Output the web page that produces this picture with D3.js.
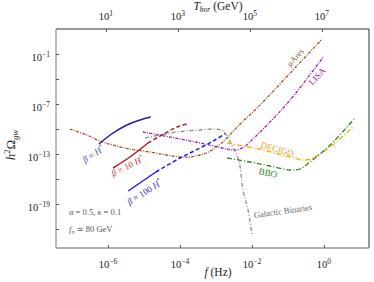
<!DOCTYPE html>
<html>
<head>
<meta charset="utf-8">
<script src="https://cdn.jsdelivr.net/npm/d3@7"></script>
<style>
  body { margin: 0; background: #fff; }
  svg { font-family: "Liberation Serif", "DejaVu Serif", serif; }
</style>
</head>
<body>
<svg id="chart" width="374" height="282"></svg>
<script>
// curves as [log10 f (Hz), log10 h^2 Omega]
var muAres = [[-7.06,-10.0],[-6.6,-10.7],[-6.22,-11.44],[-5.8,-12.0],[-5.39,-12.4],[-4.83,-12.76],
  [-4.4,-13.1],[-4.0,-13.36],[-3.7,-13.35],[-3.44,-13.12],[-3.2,-12.75],[-3.03,-12.28],[-2.85,-11.7],
  [-2.67,-10.96],[-2.33,-9.4],[-1.83,-7.36],[-0.94,-3.28],[-0.08,0.68]];
var lisa = [[-5.03,-10.36],[-4.14,-11.08],[-3.44,-11.68],[-2.83,-12.28],[-2.6,-12.5],[-2.4,-12.48],
  [-2.2,-12.1],[-2.06,-11.56],[-1.58,-9.52],[-0.94,-6.52],[0.0,-1.24]];
var galactic = [[-4.97,-11.08],[-4.08,-10.36],[-3.44,-10.12],[-3.03,-10.0],[-2.85,-10.15],[-2.75,-10.48],
  [-2.56,-11.92],[-2.45,-12.9],[-2.36,-13.84],[-2.25,-17.32],[-2.11,-19.72],[-2.0,-22.72]];
var decigo = [[-2.69,-11.68],[-1.69,-12.52],[-0.94,-13.36],[-0.53,-13.72],[-0.31,-13.48],[0.17,-12.16],[0.81,-9.76]];
var bbo = [[-2.69,-13.48],[-2.06,-13.96],[-1.5,-14.44],[-0.94,-14.92],[-0.67,-14.8],[-0.39,-13.96],[0.17,-11.92],[0.86,-8.68]];
var betaH = [[-6.25,-11.8],[-5.94,-10.72],[-5.53,-9.64],[-5.11,-8.92],[-4.81,-8.56]];
var beta10Solid = [[-5.86,-14.68],[-5.39,-13.36],[-4.89,-11.68]];
var beta10Dash = [[-4.89,-11.68],[-4.42,-10.52],[-4.08,-9.76],[-3.81,-9.4]];
var beta100Solid = [[-5.44,-17.44],[-4.67,-15.16]];
var beta100Dash = [[-4.67,-15.16],[-4.0,-13.48],[-3.44,-12.28],[-3.03,-11.32],[-2.75,-10.6]];

var xTicks = [1e-6, 1e-4, 1e-2, 1];
var xTickExp = ["\u22126", "\u22124", "\u22122", "0"];
var yTicks = [1e-1, 1e-7, 1e-13, 1e-19];
var yTickExp = ["\u22121", "\u22127", "\u221213", "\u221219"];
var yMinor = [1e-4, 1e-10, 1e-16, 1e-22];
var tTicks = [1e1, 1e3, 1e5, 1e7];
var tTickExp = ["1", "3", "5", "7"];
var tShift = 7.056; // log10 T_hor - log10 f

var svg = d3.select("#chart");
var L = 56, R = 369, T = 29, B = 248;

var x = d3.scaleLog().domain([Math.pow(10, -7.444), Math.pow(10, 1.25)]).range([L, R]);
var y = d3.scaleLog().domain([Math.pow(10, -24.28), Math.pow(10, 2.0)]).range([B, T]);
var xt = d3.scaleLog().domain([Math.pow(10, -7.444 + tShift), Math.pow(10, 1.25 + tShift)]).range([L, R]);

function toVal(pts){ return pts.map(function(p){ return [Math.pow(10, p[0]), Math.pow(10, p[1])]; }); }
var line = d3.line().x(function(d){ return x(d[0]); }).y(function(d){ return y(d[1]); })
  .curve(d3.curveCatmullRom.alpha(0.5));

function drawCurve(pts, color, dash, w){
  svg.append("path").datum(toVal(pts))
    .attr("d", line).attr("fill", "none")
    .attr("stroke", color).attr("stroke-width", w || 1.3)
    .attr("stroke-dasharray", dash || null);
}

drawCurve(muAres, "#a0522d", "3,1.3,1,1.3");
drawCurve(lisa, "#a21caf", "3,1.3,1,1.3");
drawCurve(galactic, "#8c8c8c", "4,2,1,2");
drawCurve(decigo, "#ffa500", "5,2,1,2");
drawCurve(bbo, "#1e8c1e", "5,2,1,2");
drawCurve(betaH, "#2222a8", null, 1.5);
drawCurve(beta10Solid, "#b01e1e", null, 1.5);
drawCurve(beta10Dash, "#b01e1e", "4,2.5", 1.5);
drawCurve(beta100Solid, "#1a1aff", null, 1.5);
drawCurve(beta100Dash, "#1a1aff", "4,2.5", 1.5);

// frame
svg.append("line").attr("x1", L).attr("x2", R).attr("y1", T).attr("y2", T).attr("stroke", "#333").attr("stroke-width", 1);
svg.append("line").attr("x1", R).attr("x2", R).attr("y1", T).attr("y2", B).attr("stroke", "#333").attr("stroke-width", 1);
svg.append("line").attr("x1", L).attr("x2", R).attr("y1", B).attr("y2", B).attr("stroke", "#999").attr("stroke-width", 1.3);
svg.append("line").attr("x1", L).attr("x2", L).attr("y1", T).attr("y2", B).attr("stroke", "#999").attr("stroke-width", 1.3);

// axes ticks (inward)
var ax = svg.append("g").attr("transform", "translate(0," + B + ")")
  .call(d3.axisBottom(x).tickValues(xTicks).tickSize(-3).tickFormat(""));
var ay = svg.append("g").attr("transform", "translate(" + L + ",0)")
  .call(d3.axisLeft(y).tickValues(yTicks.concat(yMinor)).tickSize(-3).tickFormat(""));
var at = svg.append("g").attr("transform", "translate(0," + T + ")")
  .call(d3.axisTop(xt).tickValues(tTicks).tickSize(-3).tickFormat(""));
[ax, ay, at].forEach(function(g){
  g.select(".domain").remove();
  g.selectAll(".tick line").attr("stroke", "#555");
});

function powLabel(px, py, exp, anchor){
  var t = svg.append("text").attr("x", px).attr("y", py)
    .attr("text-anchor", anchor).attr("font-size", 10.5).attr("fill", "#222");
  t.append("tspan").text("10");
  t.append("tspan").attr("dy", -4.5).attr("font-size", 7.5).text(exp);
}
xTicks.forEach(function(v, i){ powLabel(x(v), 268, xTickExp[i], "middle"); });
yTicks.forEach(function(v, i){ powLabel(50, y(v) + 7, yTickExp[i], "end"); });
tTicks.forEach(function(v, i){ powLabel(xt(v), 20, tTickExp[i], "middle"); });

// axis titles
var xl = svg.append("text").attr("x", 218).attr("y", 276).attr("text-anchor", "middle")
  .attr("font-size", 11.5).attr("fill", "#222");
xl.append("tspan").attr("font-style", "italic").text("f");
xl.append("tspan").text(" (Hz)");

var tl = svg.append("text").attr("x", 218).attr("y", 10).attr("text-anchor", "middle")
  .attr("font-size", 11.5).attr("fill", "#222");
tl.append("tspan").attr("font-style", "italic").text("T");
tl.append("tspan").attr("font-style", "italic").attr("font-size", 7.5).attr("dy", 2).text("hor");
tl.append("tspan").attr("dy", -2).text(" (GeV)");

var yl = svg.append("text").attr("transform", "translate(15,145) rotate(-90)")
  .attr("text-anchor", "middle").attr("font-size", 13).attr("fill", "#222");
yl.append("tspan").attr("font-style", "italic").text("h");
yl.append("tspan").attr("font-size", 8.5).attr("dy", -5).text("2");
yl.append("tspan").attr("dy", 5).text("\u03a9");
yl.append("tspan").attr("font-size", 8.5).attr("dy", 2.5).attr("font-style", "italic").text("gw");

// curve labels
function note(lf, lo, angle, size, color, parts){
  var px = x(Math.pow(10, lf)), py = y(Math.pow(10, lo));
  var t = svg.append("text").attr("transform", "translate(" + px + "," + py + ") rotate(" + angle + ")")
    .attr("text-anchor", "middle").attr("dominant-baseline", "middle")
    .attr("font-size", size).attr("fill", color);
  parts.forEach(function(p){
    var s = t.append("tspan").text(p[0]);
    if (p[1]) s.attr("font-style", "italic");
    if (p[2]) s.attr("font-size", size * 0.7).attr("dy", p[2]);
  });
}
note(-6.39, -13.12, -32, 9, "#4848a8", [["\u03b2", 1], [" = "], ["H", 1], ["*", 0, -3]]);
note(-5.44, -14.56, -26, 9, "#cc4040", [["\u03b2", 1], [" = 10 "], ["H", 1], ["*", 0, -3]]);
note(-4.97, -17.68, -32, 9, "#3030d8", [["\u03b2", 1], [" = 100 "], ["H", 1], ["*", 0, -3]]);
note(-0.78, -1.48, -47, 8.5, "#8b5a3c", [["\u03bcAres"]]);
note(-0.17, -3.76, -47, 9, "#9a22a8", [["LISA"]]);
note(-1.31, -12.52, 15, 9, "#f0a020", [["DECIGO"]]);
note(-1.56, -15.4, 12, 9, "#1e8c1e", [["BBO"]]);
note(-1.14, -19.96, -8, 8.5, "#666", [["Galactic Binaries"]]);

// parameter notes
var p1 = svg.append("text").attr("x", 69).attr("y", 215).attr("font-size", 8.5).attr("fill", "#555");
p1.append("tspan").attr("font-style", "italic").text("\u03b1");
p1.append("tspan").text(" = 0.5, ");
p1.append("tspan").attr("font-style", "italic").text("\u03ba");
p1.append("tspan").text(" = 0.1");
var p2 = svg.append("text").attr("x", 69).attr("y", 232).attr("font-size", 8.5).attr("fill", "#555");
p2.append("tspan").attr("font-style", "italic").text("f");
p2.append("tspan").attr("font-style", "italic").attr("font-size", 6).attr("dy", 2).text("\u03c0");
p2.append("tspan").attr("dy", -2).text(" \u2243 80 GeV");
</script>
</body>
</html>
